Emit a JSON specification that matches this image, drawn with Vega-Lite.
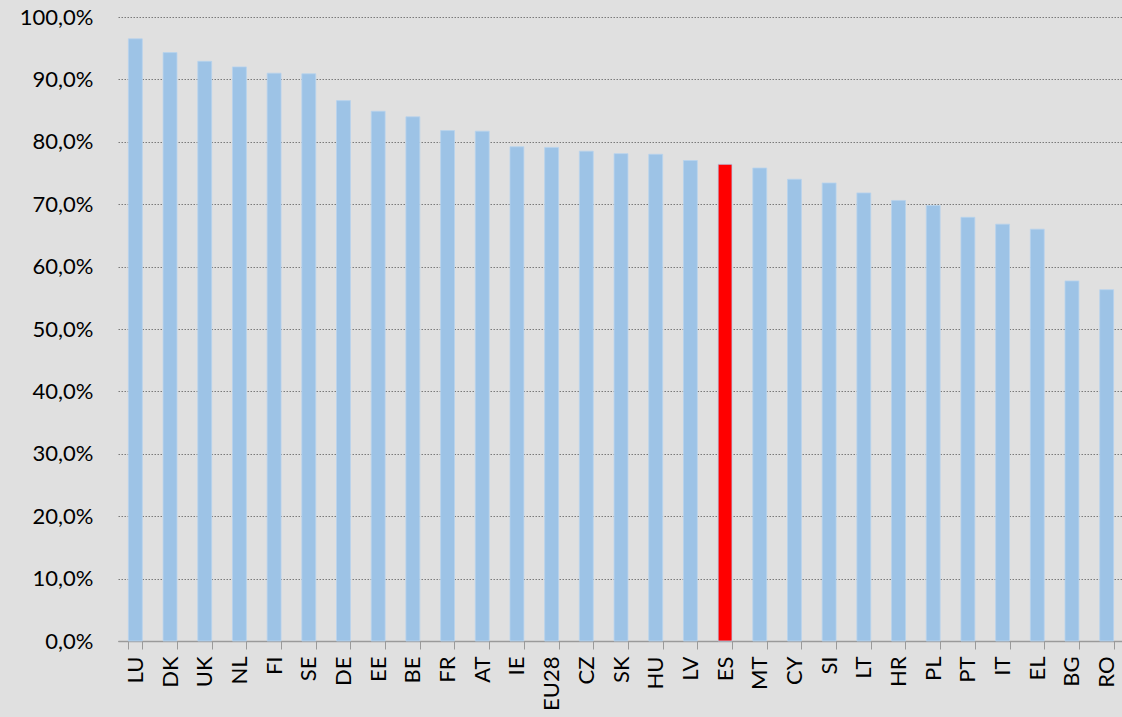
{
  "$schema": "https://vega.github.io/schema/vega-lite/v6.json",
  "autosize": "none",
  "width": 1006,
  "height": 624,
  "padding": {"left": 118, "top": 17, "right": 0, "bottom": 76},
  "background": "#e0e0e0",
  "config": {
    "locale": {"number": {"decimal": ",", "thousands": ".", "grouping": [3], "currency": ["", " €"]}},
    "view": {"stroke": null},
    "font": "Lato"
  },
  "data": {
    "values": [
      {"country": "LU", "value": 0.965},
      {"country": "DK", "value": 0.943},
      {"country": "UK", "value": 0.929},
      {"country": "NL", "value": 0.920},
      {"country": "FI", "value": 0.910},
      {"country": "SE", "value": 0.909},
      {"country": "DE", "value": 0.866},
      {"country": "EE", "value": 0.849},
      {"country": "BE", "value": 0.840},
      {"country": "FR", "value": 0.818},
      {"country": "AT", "value": 0.817},
      {"country": "IE", "value": 0.792},
      {"country": "EU28", "value": 0.791},
      {"country": "CZ", "value": 0.785},
      {"country": "SK", "value": 0.781},
      {"country": "HU", "value": 0.780},
      {"country": "LV", "value": 0.770},
      {"country": "ES", "value": 0.764},
      {"country": "MT", "value": 0.758},
      {"country": "CY", "value": 0.740},
      {"country": "SI", "value": 0.734},
      {"country": "LT", "value": 0.718},
      {"country": "HR", "value": 0.706},
      {"country": "PL", "value": 0.698},
      {"country": "PT", "value": 0.679},
      {"country": "IT", "value": 0.668},
      {"country": "EL", "value": 0.660},
      {"country": "BG", "value": 0.577},
      {"country": "RO", "value": 0.563}
    ]
  },
  "mark": {"type": "bar", "stroke": "#b8d3ee", "strokeWidth": 0.8},
  "encoding": {
    "x": {
      "field": "country",
      "type": "nominal",
      "sort": null,
      "title": null,
      "scale": {"paddingInner": 0.6, "paddingOuter": 0.3},
      "axis": {
        "labelAngle": -90,
        "labelAlign": "right",
        "labelBaseline": "middle",
        "labelFontSize": 22,
        "labelColor": "#000000",
        "labelPadding": 7,
        "tickBand": "extent",
        "tickSize": 8,
        "tickColor": "#9a9a9a",
        "domainColor": "#9a9a9a",
        "domainWidth": 1.5,
        "grid": false
      }
    },
    "y": {
      "field": "value",
      "type": "quantitative",
      "title": null,
      "scale": {"domain": [0, 1], "nice": false},
      "axis": {
        "format": ".1%",
        "values": [0, 0.1, 0.2, 0.3, 0.4, 0.5, 0.6, 0.7, 0.8, 0.9, 1.0],
        "labelFontSize": 22,
        "labelColor": "#000000",
        "labelPadding": 25,
        "ticks": false,
        "domain": false,
        "grid": true,
        "gridColor": "#7a7a7a",
        "gridDash": [1.5, 1.5],
        "gridWidth": 1
      }
    },
    "color": {
      "condition": {"test": "datum.country === 'ES'", "value": "#ff0000"},
      "value": "#9dc3e6"
    }
  }
}
